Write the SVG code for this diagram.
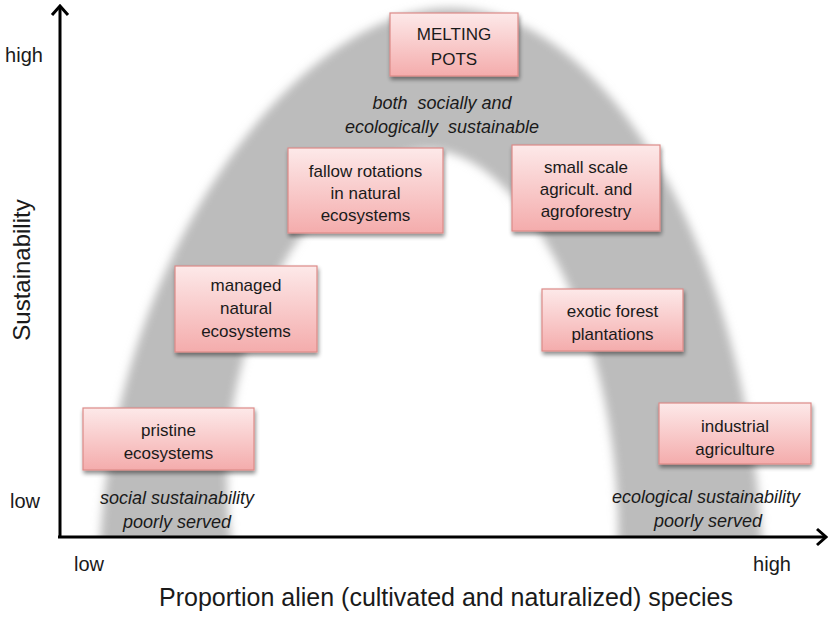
<svg xmlns="http://www.w3.org/2000/svg" width="829" height="618" viewBox="0 0 829 618">
<defs>
<linearGradient id="pink" x1="0" y1="0" x2="0" y2="1">
<stop offset="0" stop-color="#fde9e9"/>
<stop offset="1" stop-color="#f4acac"/>
</linearGradient>
<filter id="blur" x="-10%" y="-10%" width="120%" height="120%">
<feGaussianBlur stdDeviation="5"/>
</filter>
<filter id="shadow" x="-10%" y="-10%" width="125%" height="135%">
<feGaussianBlur in="SourceAlpha" stdDeviation="2"/>
<feOffset dx="1" dy="3" result="b"/>
<feComponentTransfer><feFuncA type="linear" slope="0.45"/></feComponentTransfer>
<feMerge><feMergeNode/><feMergeNode in="SourceGraphic"/></feMerge>
</filter>
<clipPath id="above"><rect x="0" y="0" width="829" height="536"/></clipPath>
<marker id="arr" viewBox="0 0 12 20" refX="10" refY="10" markerWidth="12" markerHeight="20" markerUnits="userSpaceOnUse" orient="auto">
<path d="M1,2 L10,10 L1,18" fill="none" stroke="#000" stroke-width="3"/>
</marker>
<style>
.box rect{fill:url(#pink);stroke:#dc8a88;stroke-width:1.2;filter:url(#shadow)}
.box text,.lbl{font-family:"Liberation Sans",Arial,sans-serif;fill:#1a1a1a;text-anchor:middle}
.box text{font-size:17px}
.it{font-family:"Liberation Sans",Arial,sans-serif;font-style:italic;font-size:18px;fill:#1a1a1a;text-anchor:middle}
.ax{stroke:#000;stroke-width:3;fill:none}
</style>
</defs>
<rect width="829" height="618" fill="#fff"/>
<g id="arch" clip-path="url(#above)">
<path d="M100,545 C115,250 300,8 450,8 C605,8 748,250 762,545 L618,545 C622,330 520,150 430,150 C330,150 200,330 232,545 Z" fill="#bcbcbc" filter="url(#blur)"/>
</g>
<g id="axes">
<line class="ax" x1="60" y1="538" x2="60" y2="6" marker-end="url(#arr)"/>
<line class="ax" x1="58" y1="537" x2="826" y2="537" marker-end="url(#arr)"/>
<text class="lbl" x="24" y="62" font-size="20">high</text>
<text class="lbl" x="25" y="508" font-size="20">low</text>
<text class="lbl" x="89" y="571" font-size="20">low</text>
<text class="lbl" x="772" y="571" font-size="20">high</text>
<text class="lbl" x="446" y="606" font-size="25">Proportion alien (cultivated and naturalized) species</text>
<text class="lbl" transform="translate(30,270) rotate(-90)" font-size="24">Sustainability</text>
</g>
<g id="melting" class="box">
<rect x="390" y="13" width="128" height="63"/>
<text x="454" y="40">MELTING</text>
<text x="454" y="65">POTS</text>
</g>
<g id="note-top">
<text class="it" x="442" y="109" xml:space="preserve">both  socially and</text>
<text class="it" x="442" y="133" xml:space="preserve">ecologically  sustainable</text>
</g>
<g id="fallow" class="box">
<rect x="288" y="148" width="155" height="85"/>
<text x="365.5" y="177">fallow rotations</text>
<text x="365.5" y="199">in natural</text>
<text x="365.5" y="221">ecosystems</text>
</g>
<g id="smallscale" class="box">
<rect x="512" y="145" width="148" height="86"/>
<text x="586" y="173">small scale</text>
<text x="586" y="195">agricult. and</text>
<text x="586" y="217">agroforestry</text>
</g>
<g id="managed" class="box">
<rect x="175" y="266" width="142" height="86"/>
<text x="246" y="291">managed</text>
<text x="246" y="314">natural</text>
<text x="246" y="337">ecosystems</text>
</g>
<g id="exotic" class="box">
<rect x="542" y="289" width="141" height="62"/>
<text x="612.5" y="317">exotic forest</text>
<text x="612.5" y="340">plantations</text>
</g>
<g id="pristine" class="box">
<rect x="83" y="408" width="171" height="62"/>
<text x="168.5" y="436">pristine</text>
<text x="168.5" y="459">ecosystems</text>
</g>
<g id="industrial" class="box">
<rect x="659" y="403" width="152" height="61"/>
<text x="735" y="432">industrial</text>
<text x="735" y="455">agriculture</text>
</g>
<g id="note-left">
<text class="it" x="177" y="504">social sustainability</text>
<text class="it" x="177" y="528">poorly served</text>
</g>
<g id="note-right">
<text class="it" x="706" y="503">ecological sustainability</text>
<text class="it" x="708" y="527">poorly served</text>
</g>
</svg>
